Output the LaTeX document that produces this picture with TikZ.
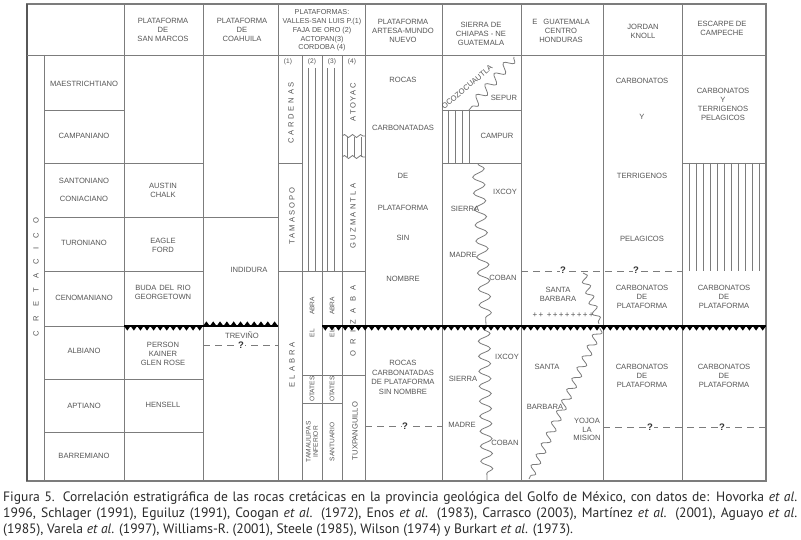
\documentclass[tikz,border=0pt]{standalone}
\usepackage{fontspec}
\setmainfont{Liberation Sans}
\newfontfamily\capfont{PT Sans}
\usetikzlibrary{decorations.pathmorphing}
\definecolor{ln}{HTML}{7C7C7C}
\definecolor{tx}{HTML}{555555}
\definecolor{captx}{HTML}{2A2A2A}
\newcommand\lsp[2]{{\addfontfeature{LetterSpace=#1}#2}}
\tikzset{
  grid/.style={draw=ln, line width=0.9pt},
  frame/.style={draw=ln, line width=1.2pt},
  hatchln/.style={draw=ln, line width=0.7pt},
  lbl/.style={font=\fontsize{7.6}{9}\selectfont, text=tx, align=center, inner sep=0pt},
  hlbl/.style={font=\fontsize{7.2}{8.8}\selectfont, text=tx, align=center, inner sep=0pt},
  slbl/.style={font=\fontsize{6.6}{7.4}\selectfont, text=tx, align=center, inner sep=0pt},
  vlbl/.style={lbl, rotate=90},
  svlbl/.style={slbl, rotate=90},
  qline/.style={draw=ln, line width=0.9pt, dash pattern=on 7pt off 5pt},
  qmark/.style={font=\bfseries\fontsize{9.5}{9.5}\selectfont, text=black!80, fill=white, inner sep=0.6pt},
  wavy/.style 2 args={draw=ln, line width=0.8pt, decorate, decoration={snake, amplitude=#1, segment length=#2}},
  uncon/.style={draw=black, line width=1.6pt},
  capline/.style={font=\capfont\fontsize{13.6}{15}\selectfont, text=captx, anchor=west, inner sep=0pt},
}
\begin{document}
\begin{tikzpicture}[x=1pt,y=-1pt]
\useasboundingbox (0,0) rectangle (801,540);
\fill[white] (0,0) rectangle (801,540);

% ---------- frame and main grid ----------
\draw[frame] (27,4) rectangle (766,481);
\draw[draw=ln!70!black, line width=1.8pt] (27,4) -- (27,481);
\draw[grid] (27,55) -- (766,55);
\foreach \x in {124,203,278,365,442,521,603,682} \draw[grid] (\x,4) -- (\x,481);
\draw[grid] (44,55) -- (44,481);
\foreach \y in {110,163,217,271,326,379,432} \draw[grid] (44,\y) -- (124,\y);
\foreach \y in {163,217,271,379,432} \draw[grid] (124,\y) -- (203,\y);
\draw[grid] (203,217) -- (278,217);

% Plataformas sub-columns
\foreach \x in {302,322,342} \draw[grid] (\x,55) -- (\x,481);
\draw[grid] (278,163) -- (302,163);
\draw[grid] (278,271) -- (365,271);
\draw[grid] (302,375) -- (365,375);
\draw[grid] (302,403) -- (342,403);
\foreach \x in {308,315,327,334} \draw[hatchln] (\x,68) -- (\x,271);
\draw[wavy={1.5pt}{8pt}] (342,136) -- (365,136);
\draw[wavy={1.5pt}{8pt}] (342,157) -- (365,157);
\foreach \x in {347,354,361} \draw[hatchln] (\x,137) -- (\x,157);

% Sierra de Chiapas
\draw[grid] (442,110) -- (521,110);
\draw[grid] (442,163) -- (521,163);
\draw[grid] (469,110) -- (469,163);
\foreach \x in {448,455,462} \draw[hatchln] (\x,110) -- (\x,163);
\draw[wavy={4.5pt}{14pt}] (514,57) -- (469,110);
\draw[wavy={6pt}{16pt}] (478,164) -- (486,325);
\draw[wavy={6pt}{15pt}] (484,329) -- (487,480);

% E Guatemala
\draw[wavy={3.5pt}{11pt}] (583,273) -- (599,324);
\draw[wavy={4pt}{12pt}] (600,328) -- (529,479);

% Escarpe
\draw[grid] (682,163) -- (766,163);
\foreach \k in {0,...,10} \draw[hatchln] (689+\k*7,163) -- (689+\k*7,271);

% ---------- unconformities ----------
\draw[uncon] (124,326) -- (203,326);
\foreach \i in {0,...,11} \fill[black] (124+\i*6.58,326) -- ++(6.58,0) -- ++(-3.29,4.6) -- cycle;
\draw[uncon] (203,326) -- (278,326);
\foreach \i in {0,...,10} \fill[black] (203+\i*6.82,326) -- ++(6.82,0) -- ++(-3.41,-4.6) -- cycle;
\draw[uncon] (322,326) -- (766,326);
\foreach \i in {0,...,66} \fill[black] (322+\i*6.627,326) -- ++(6.627,0) -- ++(-3.31,4.6) -- cycle;

% ---------- dashed query lines ----------
\draw[qline] (203,345) -- (278,345);
\node[qmark] (q1) at (241,345) {?};
\draw[qline] (365,426) -- (442,426);
\node[qmark] (q2) at (405,426) {?};
\draw[qline] (521,271) -- (682,271);
\node[qmark] (q3) at (563,270) {?};
\node[qmark] (q4) at (636,270) {?};
\draw[qline] (603,427) -- (766,427);
\node[qmark] (q5) at (650,427) {?};
\node[qmark] (q6) at (722,427) {?};

% ---------- headers ----------
\node[lbl] (hsm) at (163,30) {PLATAFORMA\\DE\\SAN MARCOS};
\node[lbl] (hco) at (242,30) {PLATAFORMA\\DE\\COAHUILA};
\node[hlbl] (hpl) at (322,30.5) {PLATAFORMAS:\\VALLES-SAN LUIS P.(1)\\FAJA DE ORO (2)\\ACTOPAN(3)\\CORDOBA (4)};
\node[lbl] (har) at (403,31) {PLATAFORMA\\ARTESA-MUNDO\\NUEVO};
\node[lbl] (hch) at (481,34) {SIERRA DE\\CHIAPAS - NE\\GUATEMALA};
\node[lbl] (heg) at (561,31) {E\hspace{6pt}GUATEMALA\\CENTRO\\HONDURAS};
\node[lbl] (hjk) at (643,31) {JORDAN\\KNOLL};
\node[lbl] (hec) at (722,28) {ESCARPE DE\\CAMPECHE};

% ---------- stages ----------
\node[vlbl] (cret) at (36,277) {\lsp{124}{CRETACICO}};
\node[lbl] (s1) at (84,84) {MAESTRICHTIANO};
\node[lbl] (s2) at (84,136) {CAMPANIANO};
\node[lbl] (s3) at (84,181) {SANTONIANO};
\node[lbl] (s4) at (84,199) {CONIACIANO};
\node[lbl] (s5) at (84,243) {TURONIANO};
\node[lbl] (s6) at (84,298) {CENOMANIANO};
\node[lbl] (s7) at (84,351) {ALBIANO};
\node[lbl] (s8) at (84,406) {APTIANO};
\node[lbl] (s9) at (84,456) {BARREMIANO};

% ---------- San Marcos / Coahuila ----------
\node[lbl] (sm1) at (163,190) {AUSTIN\\CHALK};
\node[lbl] (sm2) at (163,245) {EAGLE\\FORD};
\node[lbl] (sm3) at (163,292) {BUDA\hspace{3pt}DEL\hspace{3pt}RIO\\GEORGETOWN};
\node[lbl] (sm4) at (163,354) {PERSON\\KAINER\\GLEN ROSE};
\node[lbl] (sm5) at (163,405) {HENSELL};
\node[lbl] (co1) at (249,270) {INDIDURA};
\node[lbl] (co2) at (242,335) {TREVIÑO};

% ---------- Plataformas ----------
\node[slbl] (p1) at (288,62) {(1)};
\node[slbl] (p2) at (312,62) {(2)};
\node[slbl] (p3) at (332,62) {(3)};
\node[slbl] (p4) at (352,62) {(4)};
\node[vlbl] (c1a) at (291,113) {\lsp{37}{CARDENAS}};
\node[vlbl] (c1b) at (292,216) {\lsp{26}{TAMASOPO}};
\node[vlbl] (c1c) at (292,365) {\lsp{34}{EL\hspace{4pt}ABRA}};
\node[vlbl] (c4a) at (353,102) {\lsp{22}{ATOYAC}};
\node[vlbl] (c4b) at (353,216) {\lsp{29}{GUZMANTLA}};
\node[vlbl] (c4c) at (353,321) {\lsp{83}{ORIZABA}};
\node[vlbl] (c4d) at (355,431) {TUXPANGUILLO};
\node[svlbl] (c2a) at (312,317) {EL\hspace{14pt}ABRA};
\node[svlbl] (c3a) at (332,317) {EL\hspace{14pt}ABRA};
\node[svlbl] (c2b) at (312,389) {OTATES};
\node[svlbl] (c3b) at (332,389) {OTATES};
\node[svlbl] (c2c) at (312,442) {TAMAULIPAS\\INFERIOR};
\node[svlbl] (c3c) at (332,442) {SANTUARIO};

% ---------- Artesa - Mundo Nuevo ----------
\node[lbl] (a1) at (403,80) {ROCAS};
\node[lbl] (a2) at (403,128) {CARBONATADAS};
\node[lbl] (a3) at (403,176) {DE};
\node[lbl] (a4) at (403,208) {PLATAFORMA};
\node[lbl] (a5) at (403,238) {SIN};
\node[lbl] (a6) at (403,279) {NOMBRE};
\node[lbl, font=\fontsize{7.6}{9.6}\selectfont] (a7) at (403,377.5) {ROCAS\\CARBONATADAS\\DE PLATAFORMA\\SIN NOMBRE};

% ---------- Sierra de Chiapas ----------
\node[lbl, rotate=40] (ch0) at (467,87) {OCOZOCUAUTLA};
\node[lbl] (ch1) at (504,98) {SEPUR};
\node[lbl] (ch2) at (497,136) {CAMPUR};
\node[lbl] (ch3) at (505,192) {IXCOY};
\node[lbl] (ch4) at (465,209) {SIERRA};
\node[lbl] (ch5) at (463,255) {MADRE};
\node[lbl] (ch6) at (503,278) {COBAN};
\node[lbl] (ch7) at (507,357) {IXCOY};
\node[lbl] (ch8) at (463,379) {SIERRA};
\node[lbl] (ch9) at (462,425) {MADRE};
\node[lbl] (ch10) at (505,443) {COBAN};

% ---------- E Guatemala ----------
\node[lbl] (eg1) at (558,294.5) {SANTA\\BARBARA};
\node[lbl, font=\fontsize{8}{9}\selectfont] (eg2) at (563,315) {+\,+\ \,+\,+\,+\,+\,+\,+\,+\,+};
\node[lbl] (eg3) at (547,367) {SANTA};
\node[lbl] (eg4) at (545,407) {BARBARA};
\node[lbl, font=\fontsize{7.6}{8.5}\selectfont] (eg5) at (587,429.5) {YOJOA\\LA\\MISION};

% ---------- Jordan Knoll ----------
\node[lbl] (jk1) at (642,81) {CARBONATOS};
\node[lbl] (jk2) at (642,117) {Y};
\node[lbl] (jk3) at (642,176) {TERRIGENOS};
\node[lbl] (jk4) at (642,239) {PELAGICOS};
\node[lbl] (jk5) at (642,297) {CARBONATOS\\DE\\PLATAFORMA};
\node[lbl] (jk6) at (642,376) {CARBONATOS\\DE\\PLATAFORMA};

% ---------- Escarpe de Campeche ----------
\node[lbl] (ec1) at (723,104.5) {CARBONATOS\\Y\\TERRIGENOS\\PELAGICOS};
\node[lbl] (ec2) at (724,297) {CARBONATOS\\DE\\PLATAFORMA};
\node[lbl] (ec3) at (724,376) {CARBONATOS\\DE\\PLATAFORMA};

% ---------- caption ----------
\node[capline] (cap1) at (3,498) {\makebox[794pt][s]{Figura 5. Correlación estratigráfica de las rocas cretácicas en la provincia geológica del Golfo de México, con datos de: Hovorka \textit{et al}.}};
\node[capline] (cap2) at (3,514) {\makebox[794pt][s]{1996, Schlager (1991), Eguiluz (1991), Coogan \textit{et al}. (1972), Enos \textit{et al}. (1983), Carrasco (2003), Martínez \textit{et al}. (2001), Aguayo \textit{et al}.}};
\node[capline] (cap3) at (3,530) {(1985), Varela \textit{et al}. (1997), Williams-R. (2001), Steele (1985), Wilson (1974) y Burkart \textit{et al}. (1973).};
\end{tikzpicture}
\end{document}
